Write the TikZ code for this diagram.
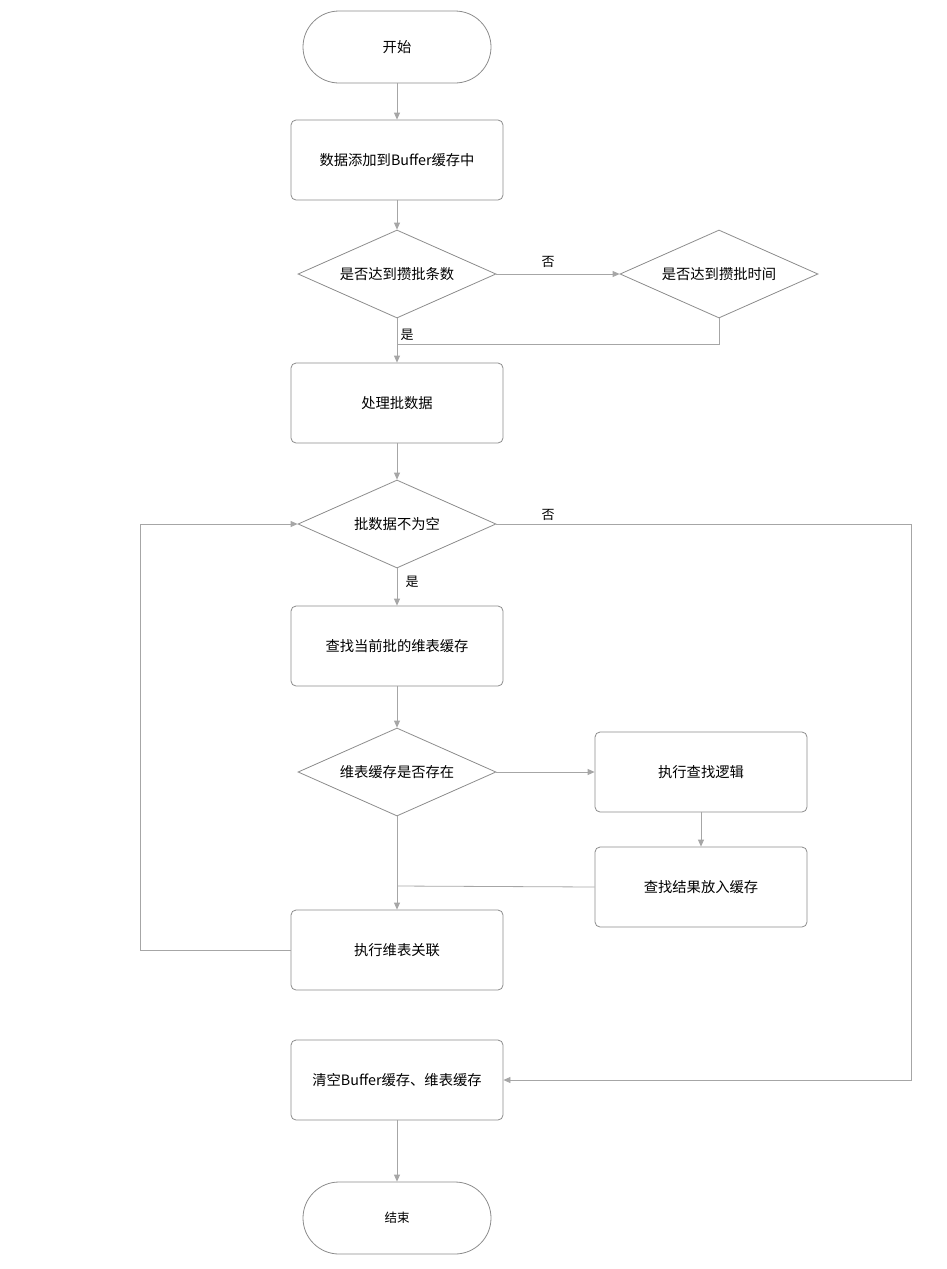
\documentclass[tikz,border=0pt]{standalone}
\usepackage{fontspec}
\setmainfont{Noto Sans CJK SC}
\usetikzlibrary{shapes.geometric,arrows.meta}
\definecolor{linegray}{HTML}{A6A6A6}
\definecolor{boxgray}{HTML}{8C8C8C}
\tikzset{
  base/.style={draw=boxgray, line width=0.8pt, font=\fontsize{14.3}{16}\selectfont, text=black, inner sep=0pt},
  terminal/.style={base, rectangle, rounded corners=36pt, minimum width=188pt, minimum height=72pt},
  procbox/.style={base, rectangle, rounded corners=5pt, minimum width=212pt, minimum height=80pt},
  decision/.style={base, diamond, aspect=2.25, minimum width=198pt, minimum height=88pt},
  arr/.style={draw=linegray, line width=0.8pt, -{Triangle[length=7pt,width=6pt]}},
  ln/.style={draw=linegray, line width=0.8pt},
  lbl/.style={font=\fontsize{13}{15}\selectfont, inner sep=0pt}
}
\begin{document}
\begin{tikzpicture}[x=1pt,y=-1pt]
\useasboundingbox (0,0) rectangle (946,1269);
\node[terminal] (start) at (397,47) {开始};
\node[procbox] (b1) at (397,160) {数据添加到Buffer缓存中};
\node[decision] (d1) at (397,274) {是否达到攒批条数};
\node[decision] (d2) at (719,274) {是否达到攒批时间};
\node[procbox] (b2) at (397,403) {处理批数据};
\node[decision] (d3) at (397,524) {批数据不为空};
\node[procbox] (b3) at (397,646) {查找当前批的维表缓存};
\node[decision] (d4) at (397,772) {维表缓存是否存在};
\node[procbox] (b4) at (701,772) {执行查找逻辑};
\node[procbox] (b5) at (701,887) {查找结果放入缓存};
\node[procbox] (b6) at (397,950) {执行维表关联};
\node[procbox] (b7) at (397,1080) {清空Buffer缓存、维表缓存};
\node[terminal, font=\fontsize{12.5}{14}\selectfont] (end) at (397,1218) {结束};
\coordinate (j1) at (397,344);
\coordinate (j2) at (397,886);

\draw[arr] (start) -- (b1);
\draw[arr] (b1) -- (d1);
\draw[arr] (d1) -- node[lbl, above=6pt, pos=0.42] (no1) {否} (d2);
\draw[ln] (d2.south) |- (j1);
\draw[arr] (d1) -- (b2);
\node[lbl] (yes1) at (407,335) {是};
\draw[arr] (b2) -- (d3);
\draw[arr] (d3) -- (b3);
\node[lbl] (yes2) at (412,582) {是};
\draw[arr] (d3.east) -- ++(415,0) |- (b7.east);
\node[lbl] (no2) at (548,515) {否};
\draw[arr] (b3) -- (d4);
\draw[arr] (d4) -- (b4);
\draw[arr] (b4) -- (b5);
\draw[arr] (d4) -- (b6);
\draw[ln] (b5.west) -- (j2);
\draw[arr] (b6.west) -- ++(-150,0) |- (d3.west);
\draw[arr] (b7) -- (end);
\end{tikzpicture}
\end{document}
